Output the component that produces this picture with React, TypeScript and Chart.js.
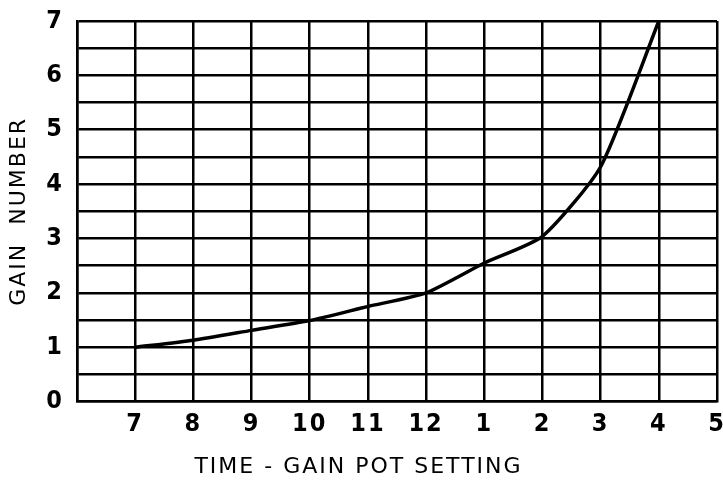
import React, { useEffect, useRef } from "react";
import { Chart, registerables } from "chart.js";

Chart.register(...registerables);

const categories = ["7", "8", "9", "10", "11", "12", "1", "2", "3", "4", "5"];
const gainValues = [1.0, 1.13, 1.31, 1.49, 1.75, 2.0, 2.55, 3.04, 4.32, 7.0];
const yTickLabels = ["0", "1", "2", "3", "4", "5", "6", "7"];
const xTitle = "TIME - GAIN POT SETTING";
const yTitle = "GAIN  NUMBER";

const TICK_FONT = "'Liberation Sans Narrow', 'DejaVu Sans Condensed', sans-serif";
const TITLE_FONT = "'DejaVu Sans', sans-serif";

const spacingPlugin = {
  id: "letterSpacing",
  beforeDraw(chart: any) {
    chart.ctx.letterSpacing = "2px";
  },
};

export default function App() {
  const ref = useRef<HTMLCanvasElement | null>(null);
  useEffect(() => {
    if (!ref.current) return;
    const points = gainValues.map((v, i) => ({ x: i + 1, y: v }));
    const chart = new Chart(ref.current, {
      type: "line",
      data: {
        datasets: [
          {
            data: points,
            borderColor: "#000",
            borderWidth: 3.5,
            pointRadius: 0,
            tension: 0.2,
            fill: false,
          },
        ],
      },
      plugins: [spacingPlugin],
      options: {
        animation: false,
        responsive: false,
        devicePixelRatio: 1,
        layout: { padding: { top: 21, right: 6, left: 0, bottom: 0 } },
        plugins: {
          legend: { display: false },
          tooltip: { enabled: false },
          title: {
            display: true,
            position: "bottom",
            text: xTitle,
            color: "#000",
            font: { family: TITLE_FONT, size: 22, weight: "normal" },
            padding: { top: 0, bottom: 1 },
          },
        },
        scales: {
          x: {
            type: "linear",
            min: 0,
            max: categories.length,
            afterFit: (s: any) => {
              s.height = 52;
              s.paddingLeft = 0;
              s.paddingRight = 0;
            },
            afterBuildTicks: (s: any) => {
              s.ticks = Array.from({ length: categories.length + 1 }, (_, i) => ({ value: i }));
            },
            ticks: {
              autoSkip: false,
              maxRotation: 0,
              padding: 8,
              color: "#000",
              font: { family: TICK_FONT, size: 25, weight: "bold" },
              callback: (v: any) => (v === 0 ? "" : categories[Number(v) - 1]),
            },
            grid: { color: "#000", lineWidth: 2.5, drawTicks: false },
            border: { color: "#000", width: 2.5 },
          },
          y: {
            type: "linear",
            min: 0,
            max: 7,
            afterFit: (s: any) => {
              s.width = 77;
              s.paddingTop = 0;
              s.paddingBottom = 0;
            },
            afterBuildTicks: (s: any) => {
              s.ticks = Array.from({ length: 15 }, (_, i) => ({ value: i * 0.5 }));
            },
            ticks: {
              autoSkip: false,
              padding: 13,
              color: "#000",
              font: { family: TICK_FONT, size: 25, weight: "bold" },
              callback: (v: any) => (Number.isInteger(Number(v)) ? yTickLabels[Number(v)] : ""),
            },
            grid: { color: "#000", lineWidth: 2.5, drawTicks: false },
            border: { color: "#000", width: 2.5 },
            title: {
              display: true,
              text: yTitle,
              color: "#000",
              font: { family: TITLE_FONT, size: 22 },
              padding: { top: 6, bottom: 0 },
            },
          },
        },
      },
    });
    return () => chart.destroy();
  }, []);
  return (
    <div style={{ position: "absolute", left: 0, top: 0, width: 723, height: 481, background: "#fff" }}>
      <canvas ref={ref} width={723} height={481} />
    </div>
  );
}
